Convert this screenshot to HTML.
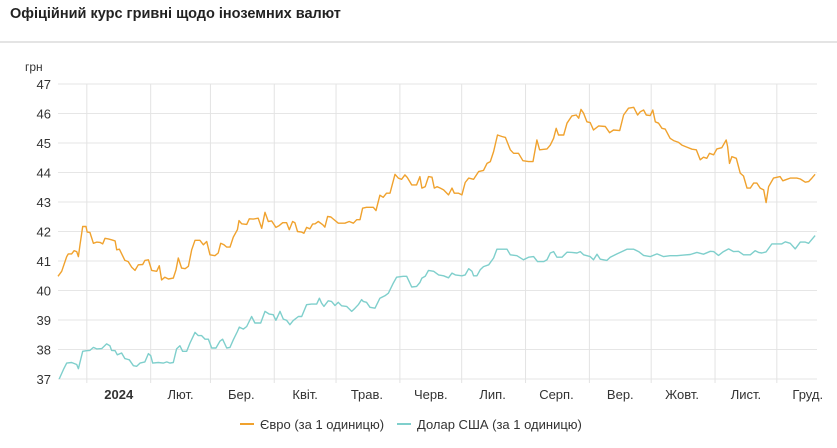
<!DOCTYPE html>
<html><head><meta charset="utf-8"><style>
body{margin:0;background:#fff;font-family:"Liberation Sans",sans-serif;}
#wrap{position:relative;width:837px;height:448px;overflow:hidden;}
#title{position:absolute;left:10px;top:6px;font-size:14.5px;font-weight:bold;color:#222;}
#sep{position:absolute;left:0;top:41px;width:837px;height:2px;background:#e4e4e4;}
</style></head><body>
<div id="wrap">
<div id="title">Офіційний курс гривні щодо іноземних валют</div>
<div id="sep"></div>
<svg id="chart" width="837" height="448" style="position:absolute;left:0;top:0"></svg>
</div>
<script>
const yTicks=[37,38,39,40,41,42,43,44,45,46,47];
const monthStartDays=[14,45,74,105,135,166,196,227,258,288,319,349];
const monthLabels=["2024","Лют.","Бер.","Квіт.","Трав.","Черв.","Лип.","Серп.","Вер.","Жовт.","Лист.","Груд."];
const monthLabelDays=[29.5,59.5,89,120,150,181,211,242,273,303,334,364];
const eurDays=[0,1.8,4.2,5,6.6,7.8,9.1,9.9,10.7,12,13.6,14.2,15.5,17.2,18.8,20.4,21.7,22.8,24.4,26,27.7,28.5,29.8,32.5,34.1,35.8,37.4,39,41.1,42.2,43.9,45.5,47.9,49.2,50.3,51.9,53.6,56,57.3,58.4,60,61.7,63.3,64.9,66.5,68.9,70.6,72.2,73.8,76.2,77.8,79,80.6,81.9,83.5,85.1,87.1,87.9,89.2,91.6,92.9,94.8,97.2,98.9,100.5,102.1,103.7,105.8,107.4,109.1,111,112.3,113.9,115,116.3,118.3,119.4,120.7,122.3,123.6,124.8,126.4,128.5,129.6,130.9,132.5,133.7,136.1,139.3,141.4,143.4,145,146.6,147.9,149.8,153.1,154.4,156.3,157.9,159.5,161.2,163.6,165.2,166.8,168.4,169.6,171.7,174.1,175.7,176.7,178.3,179.9,181.6,182.7,184,185.6,187.2,189.6,191.3,192.4,194.5,196.1,197.7,199.4,201.8,204.2,206.6,208.3,209.9,211.5,213.4,215.5,217.2,219.6,221.2,223.6,225.7,228.5,230.6,232.5,233.8,237.4,239,240.6,241.9,243,245.5,247.1,249.5,251.6,252.8,253.9,255.2,256.8,258.4,260,262.5,265.7,267.8,269.7,272.7,274.6,277,279.5,281.4,282.7,284.3,285.6,287.5,288.8,290,291.6,293.2,294.8,297.2,298.9,301.3,302.9,305.3,307.8,309.9,311.8,313.4,315,316.3,318.3,319.9,322.3,324.4,325.1,326,327.2,329.3,331.2,332.8,334.5,336.1,337.7,339.3,340.9,342.6,343.8,345,347.4,350.6,351.9,353.9,355.5,358.7,360.4,362.8,364.4,366,367.6];
const eurValues=[40.48,40.65,41.15,41.24,41.24,41.35,41.32,41.15,41.55,42.17,42.17,41.98,41.97,41.6,41.64,41.63,41.58,41.77,41.75,41.72,41.68,41.38,41.4,41.02,40.98,40.79,40.68,40.87,40.88,41.02,41.04,40.68,40.65,40.84,40.36,40.45,40.39,40.42,40.7,41.1,40.76,40.74,40.82,41.38,41.7,41.7,41.55,41.66,41.21,41.18,41.27,41.6,41.55,41.47,41.47,41.81,42.06,42.37,42.26,42.24,42.43,42.42,42.45,42.11,42.65,42.34,42.36,42.14,42.2,42.3,42.3,42.06,42.34,42.3,42,41.98,41.94,42.14,42.09,42.25,42.26,42.34,42.23,42.15,42.51,42.49,42.42,42.28,42.28,42.34,42.28,42.4,42.4,42.79,42.82,42.82,42.71,43.23,43.16,43.3,43.3,43.94,43.81,43.77,43.92,43.83,43.58,43.58,43.86,43.47,43.52,43.86,43.84,43.47,43.52,43.47,43.41,43.24,43.47,43.3,43.3,43.24,43.66,43.81,43.77,44.03,44.07,44.31,44.37,44.71,45.27,45.22,45.19,44.77,44.65,44.65,44.4,44.37,44.37,45.1,44.77,44.8,44.93,45.16,45.5,45.27,45.27,45.67,45.92,45.95,45.84,46.14,46.01,45.72,45.69,45.44,45.58,45.56,45.35,45.44,45.42,45.95,46.18,46.21,45.95,46.06,46.12,45.95,45.93,46.12,45.72,45.67,45.5,45.47,45.16,45.08,45.02,44.93,44.86,44.79,44.77,44.43,44.52,44.48,44.65,44.6,44.8,44.84,45.1,44.88,44.31,44.54,44.48,43.98,43.88,43.47,43.47,43.64,43.64,43.47,43.41,42.98,43.52,43.81,43.86,43.72,43.77,43.81,43.81,43.78,43.67,43.69,43.81,43.94];
const usdDays=[0.6,2.6,4.2,6.6,9.1,9.9,12,13.9,15.5,17.2,18.8,21.2,23.6,25.2,26,27.7,28.8,30.9,32.5,34.6,36.6,38.2,39.8,42.2,43.9,45,46,48.7,51.1,52.8,54.4,56,57.6,59.2,60.5,62.5,64.1,66.5,68.1,69.7,71.4,73,74.6,76.7,78.6,79.9,81.9,83.5,85.1,87.1,88,90,91.6,94,95.6,98.4,100.5,102.6,104.5,105.8,107.8,109.4,111,112.6,114.2,116.7,118.3,120.7,123.1,125.6,126.9,128,129.1,131.2,132.8,134.5,136.1,137.7,140.1,142.6,144.2,145.8,147.4,148.2,149.8,151.5,153.9,156.3,158.7,160.4,162.8,164.4,167.6,169.3,171.7,174.1,175.7,176.7,178.3,179.9,182.4,184.8,187.2,189.6,191.3,192.9,196.1,197.7,199.4,201,201.8,203.4,205,206.6,209.1,211.5,213.1,215.5,218,219.6,222.8,226,228.5,230.9,232.8,235.8,237.4,239,240.6,242.2,244.7,247.1,249.5,252,253.6,255.2,258.4,260,261.7,263.3,266.5,268.1,271.4,273.8,276.2,279.5,281.9,284.3,287.5,290.8,294,297.2,300.5,303.7,307,310.2,313.4,316.7,318.3,320.7,323.1,325.6,328,330.4,332.8,336.1,338.5,340.1,341.7,343.8,346.6,349,351.4,353.1,355.5,357.9,360.4,362.8,364.4,367.6];
const usdValues=[37,37.32,37.54,37.56,37.49,37.35,37.94,37.96,37.97,38.07,38.02,38.03,38.19,38.13,37.97,37.96,37.82,37.88,37.69,37.65,37.45,37.43,37.54,37.58,37.86,37.79,37.54,37.56,37.54,37.58,37.54,37.56,38.02,38.13,37.94,37.94,38.22,38.58,38.47,38.47,38.35,38.35,38.05,38.05,38.28,38.35,38.05,38.07,38.33,38.61,38.76,38.69,38.78,39.12,38.9,38.9,39.29,39.2,39.18,38.99,39.29,39.03,38.99,38.84,38.98,39.12,39.12,39.52,39.54,39.54,39.74,39.57,39.46,39.65,39.63,39.49,39.6,39.48,39.46,39.29,39.4,39.52,39.69,39.63,39.6,39.43,39.4,39.74,39.82,39.91,40.25,40.45,40.48,40.48,40.12,40.14,40.27,40.42,40.48,40.68,40.65,40.53,40.5,40.43,40.59,40.53,40.5,40.53,40.74,40.65,40.5,40.5,40.7,40.81,40.87,41.1,41.4,41.4,41.4,41.21,41.18,41.04,41.13,41.15,40.98,40.98,41.04,41.27,41.32,41.13,41.13,41.3,41.29,41.27,41.32,41.21,41.15,41.04,41.23,41.06,41.02,41.13,41.24,41.32,41.4,41.4,41.32,41.19,41.15,41.24,41.15,41.18,41.18,41.2,41.22,41.29,41.23,41.33,41.32,41.19,41.32,41.41,41.32,41.33,41.21,41.21,41.35,41.29,41.27,41.31,41.58,41.58,41.58,41.65,41.6,41.41,41.64,41.64,41.6,41.86];

const NS="http://www.w3.org/2000/svg";
const svg=document.getElementById('chart');
const X0=58,X1=817,Y0=379,Y1=84,D0=0,D1=368.5,V0=37,V1=47;
function xs(d){return X0+(d-D0)/(D1-D0)*(X1-X0);}
function ys(v){return Y0-(v-V0)/(V1-V0)*(Y0-Y1);}
function mk(tag,attrs){const e=document.createElementNS(NS,tag);for(const k in attrs)e.setAttribute(k,attrs[k]);svg.appendChild(e);return e;}

yTicks.forEach(v=>{
  const l=mk('line',{x1:X0,x2:X1,y1:ys(v),y2:ys(v),stroke:'#e6e6e6','stroke-width':1});
  
  
  const t=mk('text',{x:51,y:ys(v)+5,'text-anchor':'end','font-size':13,fill:'#333','font-family':'Liberation Sans, sans-serif'});
  t.textContent=v;
  
  
});
monthStartDays.forEach(d=>{
  const l=mk('line',{x1:xs(d),x2:xs(d),y1:Y1,y2:Y0+4,stroke:'#e3e3e3','stroke-width':1});
  
  
});
monthLabels.forEach((m,i)=>{
  const t=mk('text',{x:xs(monthLabelDays[i]),y:399,'text-anchor':'middle','font-size':13,fill:'#333','font-family':'Liberation Sans, sans-serif','font-weight':i===0?'bold':'normal'});
  t.textContent=m;
  
  
});
const unit=mk('text',{x:25,y:71,'font-size':12,fill:'#333','font-family':'Liberation Sans, sans-serif'});
unit.textContent='грн';



function series(days,vals,color,name){
  const p=mk('polyline',{points:days.map((d,i)=>xs(d).toFixed(1)+','+ys(vals[i]).toFixed(1)).join(' '),fill:'none',stroke:color,'stroke-width':1.4,'stroke-linejoin':'round'});
  
  
}
series(usdDays,usdValues,'#7fcfcc','usd-line');
series(eurDays,eurValues,'#f0a22e','eur-line');

function legend(x,color,label,name){
  const l=mk('line',{x1:x,x2:x+14,y1:424,y2:424,stroke:color,'stroke-width':2});
  
  
  const t=mk('text',{x:x+20,y:429,'font-size':13,fill:'#333','font-family':'Liberation Sans, sans-serif'});
  t.textContent=label;
  
  
}
legend(240,'#f0a22e','Євро (за 1 одиницю)','legend-entry-eur');
legend(397,'#7fcfcc','Долар США (за 1 одиницю)','legend-entry-usd');
</script>
</body></html>
